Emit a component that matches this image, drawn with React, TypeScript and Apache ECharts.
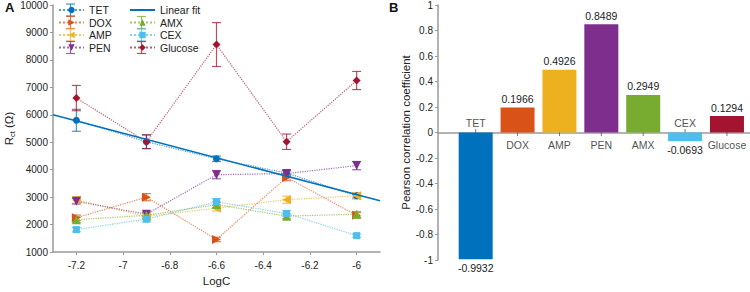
import React, { useEffect, useRef } from "react";
import * as echarts from "echarts";

// ---------- Panel A data ----------
const logC = [-7.2, -6.9, -6.6, -6.3, -6.0];
const xTicks = [-7.2, -7, -6.8, -6.6, -6.4, -6.2, -6];

const tetMean = [5800, 5020, 4400, 3880, 3050];
const tetErr = [400, 250, 100, 100, 80];
const doxMean = [2250, 3000, 1460, 3720, 2340];
const doxErr = [100, 130, 80, 120, 100];
const ampMean = [2900, 2300, 2600, 2910, 3050];
const ampErr = [120, 80, 100, 130, 120];
const penMean = [2850, 2380, 3820, 3860, 4150];
const penErr = [100, 80, 150, 100, 150];
const amxMean = [2180, 2340, 2730, 2310, 2380];
const amxErr = [100, 100, 100, 80, 100];
const cexMean = [1820, 2200, 2830, 2410, 1600];
const cexErr = [80, 100, 120, 100, 60];
const gluMean = [6610, 5020, 8560, 5020, 7250];
const gluErr = [460, 250, 800, 280, 330];

const fitX = [-7.3, -5.9];
const fitY = [6000, 2870];

// ---------- Panel B data ----------
const analytes = ["TET", "DOX", "AMP", "PEN", "AMX", "CEX", "Glucose"];
const pearson = [-0.9932, 0.1966, 0.4926, 0.8489, 0.2949, -0.0693, 0.1294];
const catPos = [1, 2, 3, 4, 5, 6, 7];

const C = {
  TET: "#0072BD",
  DOX: "#D95319",
  AMP: "#EDB120",
  PEN: "#7E2F8E",
  AMX: "#77AC30",
  CEX: "#4DBEEE",
  Glucose: "#A2142F",
};

type S = { name: string; mean: number[]; err: number[]; symbol: string; rot: number; size: number };
const groups: S[] = [
  { name: "TET", mean: tetMean, err: tetErr, symbol: "circle", rot: 0, size: 7 },
  { name: "DOX", mean: doxMean, err: doxErr, symbol: "triangle", rot: -90, size: 9 },
  { name: "AMP", mean: ampMean, err: ampErr, symbol: "triangle", rot: 90, size: 9 },
  { name: "PEN", mean: penMean, err: penErr, symbol: "triangle", rot: 180, size: 9 },
  { name: "AMX", mean: amxMean, err: amxErr, symbol: "triangle", rot: 0, size: 9 },
  { name: "CEX", mean: cexMean, err: cexErr, symbol: "rect", rot: 0, size: 7 },
  { name: "Glucose", mean: gluMean, err: gluErr, symbol: "diamond", rot: 0, size: 8 },
];

const FONT = "Liberation Sans, Arial, sans-serif";
const TXT = "#222";

export default function App() {
  const ref = useRef<HTMLDivElement>(null);
  useEffect(() => {
    if (!ref.current) return;
    const chart = echarts.init(ref.current, undefined, { renderer: "svg" });

    const series: any[] = [];
    groups.forEach((g) => {
      const col = (C as any)[g.name];
      series.push({
        name: g.name,
        type: "line",
        xAxisIndex: 0,
        yAxisIndex: 0,
        data: logC.map((x, i) => [x, g.mean[i]]),
        symbol: g.symbol,
        symbolRotate: g.rot,
        symbolSize: g.size,
        itemStyle: { color: col },
        lineStyle: { color: col, type: "dotted", width: 1.2, opacity: 0.7 },
        z: 4,
      });
    });
    groups.forEach((g) => {
      const col = (C as any)[g.name];
      series.push({
        name: g.name,
        type: "custom",
        xAxisIndex: 0,
        yAxisIndex: 0,
        data: logC.map((x, i) => [x, g.mean[i] - g.err[i], g.mean[i] + g.err[i]]),
        encode: { x: 0, y: [1, 2] },
        z: 3,
        renderItem: (params: any, api: any) => {
          const x = api.value(0);
          const lo = api.coord([x, api.value(1)]);
          const hi = api.coord([x, api.value(2)]);
          const hw = 4.5;
          const st = { stroke: col, lineWidth: 1.2, opacity: 0.75 };
          return {
            type: "group",
            children: [
              { type: "line", shape: { x1: lo[0], y1: lo[1], x2: hi[0], y2: hi[1] }, style: st },
              { type: "line", shape: { x1: lo[0] - hw, y1: lo[1], x2: lo[0] + hw, y2: lo[1] }, style: st },
              { type: "line", shape: { x1: hi[0] - hw, y1: hi[1], x2: hi[0] + hw, y2: hi[1] }, style: st },
            ],
          };
        },
      });
    });
    series.push({
      name: "Linear fit",
      type: "line",
      xAxisIndex: 0,
      yAxisIndex: 0,
      data: fitX.map((x, i) => [x, fitY[i]]),
      symbol: "none",
      lineStyle: { color: "#0072BD", width: 1.5 },
      itemStyle: { color: "#0072BD" },
      z: 5,
    });

    // Panel B
    series.push({
      name: "ticks",
      type: "scatter",
      xAxisIndex: 1,
      yAxisIndex: 1,
      symbol: "rect",
      symbolSize: [1, 7],
      silent: true,
      itemStyle: { color: "#555" },
      data: catPos.map((x) => [x, 0]),
      z: 1,
    });
    series.push({
      name: "pearson",
      type: "bar",
      xAxisIndex: 1,
      yAxisIndex: 1,
      barWidth: 34,
      data: pearson.map((v, i) => ({
        value: [catPos[i], v],
        itemStyle: { color: (C as any)[analytes[i]] },
        label: { position: v < 0 ? "bottom" : "top" },
      })),
      label: {
        show: true,
        distance: 3,
        fontFamily: FONT,
        fontSize: 10.5,
        color: TXT,
        formatter: (p: any) => p.value[1].toFixed(4),
      },
      z: 2,
    });
    series.push({
      name: "names",
      type: "scatter",
      xAxisIndex: 1,
      yAxisIndex: 1,
      symbolSize: 0,
      silent: true,
      data: pearson.map((v, i) => ({
        value: [catPos[i], 0],
        label: { position: v < 0 ? "top" : "bottom", distance: v < 0 ? 4 : 7 },
      })),
      label: {
        show: true,
        fontFamily: FONT,
        fontSize: 10.5,
        color: TXT,
        formatter: (p: any) => analytes[p.dataIndex],
      },
      z: 6,
    });

    // legend error-bar decorations
    const rowY = [10, 22.5, 35, 47.5];
    const deco: any[] = [];
    const addBar = (cx: number, cy: number, col: string) => {
      const st = { stroke: col, lineWidth: 1.2, opacity: 0.75 };
      deco.push({ type: "line", silent: true, z: -1, shape: { x1: cx, y1: cy - 6, x2: cx, y2: cy + 6 }, style: st });
      deco.push({ type: "line", silent: true, z: -1, shape: { x1: cx - 4.5, y1: cy - 6, x2: cx + 4.5, y2: cy - 6 }, style: st });
      deco.push({ type: "line", silent: true, z: -1, shape: { x1: cx - 4.5, y1: cy + 6, x2: cx + 4.5, y2: cy + 6 }, style: st });
    };
    ["TET", "DOX", "AMP", "PEN"].forEach((n, i) => addBar(70.5, rowY[i], (C as any)[n]));
    ["AMX", "CEX", "Glucose"].forEach((n, i) => addBar(141.5, rowY[i + 1], (C as any)[n]));

    const axisGray = "#9a9a9a";
    const legendCommon = {
      orient: "vertical",
      top: 4,
      padding: 0,
      itemWidth: 25,
      itemHeight: 8,
      itemGap: 0.5,
      textStyle: { fontSize: 10.5, lineHeight: 12, color: TXT },
      selectedMode: false,
    };
    const option: any = {
      animation: false,
      backgroundColor: "#fff",
      textStyle: { fontFamily: FONT },
      grid: [
        { left: 53, top: 5, width: 327, height: 255 },
        { left: 438, top: 5, width: 312, height: 255 },
      ],
      xAxis: [
        {
          type: "value",
          gridIndex: 0,
          min: -7.3,
          max: -5.9,
          splitLine: { show: false },
          axisLine: { lineStyle: { color: axisGray, width: 1.5 } },
          axisTick: { customValues: xTicks, length: 3, lineStyle: { color: axisGray } },
          axisLabel: {
            customValues: xTicks,
            fontSize: 10,
            color: TXT,
            margin: 8,
            formatter: (v: number) => String(Math.round(v * 10) / 10),
          },
          name: "LogC",
          nameLocation: "middle",
          nameGap: 22,
          nameTextStyle: { fontSize: 11.5, color: TXT },
        },
        {
          type: "value",
          gridIndex: 1,
          min: 0.1,
          max: 7.55,
          splitLine: { show: false },
          axisLine: { onZero: true, lineStyle: { color: axisGray, width: 1.5 } },
          axisTick: { show: false },
          axisLabel: { show: false },
        },
      ],
      yAxis: [
        {
          type: "value",
          gridIndex: 0,
          min: 1000,
          max: 10000,
          interval: 1000,
          splitLine: { show: false },
          axisLine: { show: true, lineStyle: { color: axisGray, width: 1.5 } },
          axisTick: { show: true, length: 3, lineStyle: { color: axisGray } },
          axisLabel: { fontSize: 10, color: TXT, margin: 5, formatter: (v: number) => String(v) },
          name: "R{sub|ct} (Ω)",
          nameLocation: "middle",
          nameGap: 36,
          nameTextStyle: {
            fontSize: 11.5,
            color: TXT,
            rich: { sub: { fontSize: 7.5, verticalAlign: "bottom", padding: [6, 0, 0, 0], color: TXT } },
          },
        },
        {
          type: "value",
          gridIndex: 1,
          min: -1,
          max: 1,
          interval: 0.2,
          splitLine: { show: false },
          axisLine: { show: true, onZero: false, lineStyle: { color: axisGray, width: 1.5 } },
          axisTick: { show: true, length: 3, lineStyle: { color: axisGray } },
          axisLabel: {
            fontSize: 10,
            color: TXT,
            margin: 5,
            formatter: (v: number) => String(Math.round(v * 10) / 10),
          },
          name: "Pearson correlation coefficient",
          nameLocation: "middle",
          nameGap: 25,
          nameTextStyle: { fontSize: 11.5, color: TXT },
        },
      ],
      legend: [
        {
          ...legendCommon,
          left: 58,
          data: ["TET", "DOX", "AMP", "PEN"],
        },
        {
          ...legendCommon,
          left: 129,
          data: [
            { name: "Linear fit", itemStyle: { opacity: 0 } },
            "AMX",
            "CEX",
            "Glucose",
          ],
        },
      ],
      graphic: [
        { type: "text", left: 5, top: 1, style: { text: "A", font: `bold 13px ${FONT}`, fill: "#111" } },
        { type: "text", left: 389, top: 1, style: { text: "B", font: `bold 13px ${FONT}`, fill: "#111" } },
        ...deco,
      ],
      series,
    };
    chart.setOption(option);
    return () => chart.dispose();
  }, []);
  return (
    <div
      ref={ref}
      style={{ position: "absolute", left: 0, top: 0, width: 750, height: 292 }}
    />
  );
}
